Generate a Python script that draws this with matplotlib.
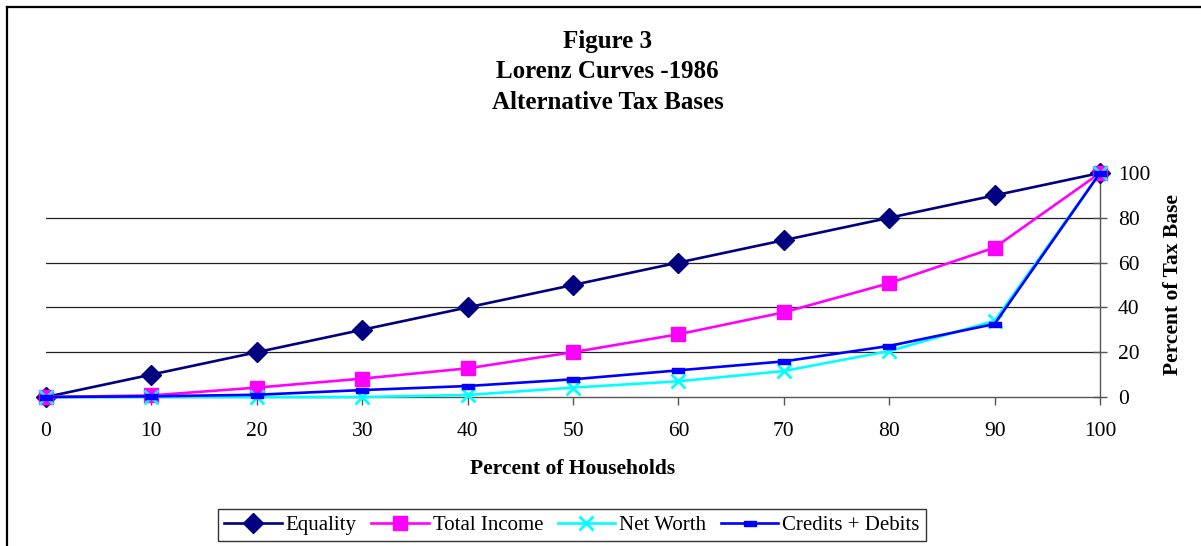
import numpy as np
import matplotlib
matplotlib.use("Agg")
import matplotlib.pyplot as plt
from matplotlib.lines import Line2D

## data
households = [0, 10, 20, 30, 40, 50, 60, 70, 80, 90, 100]
equality = [0, 10, 20, 30, 40, 50, 60, 70, 80, 90, 100]
totalIncome = [0, 0.7, 4.2, 8.2, 12.8, 20, 28, 37.8, 50.8, 66.7, 100]
netWorth = [0, 0, 0, 0, 0.9, 4.2, 7, 11.6, 20.5, 34, 100]
creditsDebits = [0, 0.3, 1, 3.1, 4.9, 7.9, 11.9, 15.9, 22.8, 32.6, 100]
yTicks = [0, 20, 40, 60, 80, 100]
gridVals = [20, 40, 60, 80]

titleLines = "Figure 3\nLorenz Curves -1986\nAlternative Tax Bases"

plt.rcParams['font.family'] = ['Liberation Serif', 'DejaVu Serif']

fig = plt.figure(figsize=(12.01, 5.46), dpi=100)
ax = fig.add_axes([46/1201, 1-397/546, (1100-46)/1201, (397-173)/546])

# frame lines of the original figure box (top and left only)
fig.add_artist(Line2D([7/1201, 1], [1-7/546, 1-7/546], color='black', lw=1.6, transform=fig.transFigure))
fig.add_artist(Line2D([7/1201, 7/1201], [0, 1-7/546], color='black', lw=1.6, transform=fig.transFigure))

for g in gridVals:
    ax.axhline(g, color='#222222', lw=0.9, zorder=1)

dash = [(-1, -0.45), (1, -0.45), (1, 0.45), (-1, 0.45), (-1, -0.45)]
ax.plot(households, equality, color='#000080', lw=1.9, marker='D', ms=10,
        label='Equality', clip_on=False, zorder=3)
ax.plot(households, totalIncome, color='#FF00FF', lw=1.9, marker='s', ms=10.5,
        label='Total Income', clip_on=False, zorder=3)
ax.plot(households, netWorth, color='#00FFFF', lw=1.9, marker='x', ms=10, mew=2,
        label='Net Worth', clip_on=False, zorder=4)
ax.plot(households, creditsDebits, color='#0000FF', lw=1.9, marker=dash, ms=8,
        label='Credits + Debits', clip_on=False, zorder=4)

ax.set_xlim(0, 100)
ax.set_ylim(0, 100)
ax.set_xticks(households)
ax.set_yticks(yTicks)

for s in ['top', 'left']:
    ax.spines[s].set_visible(False)
for s in ['bottom', 'right']:
    ax.spines[s].set_color('#555555')
    ax.spines[s].set_linewidth(1.0)

ax.yaxis.tick_right()
ax.yaxis.set_label_position('right')
ax.tick_params(axis='y', direction='inout', length=10, width=1, color='#555555', labelsize=15.5, pad=8)
ax.tick_params(axis='x', direction='out', length=6, width=1, color='#555555', labelsize=15.5, pad=12)

ax.set_xlabel("Percent of Households", fontsize=15.5, fontweight='bold', labelpad=13)
ax.set_ylabel("Percent of Tax Base", fontsize=15.5, fontweight='bold', labelpad=9)

fig.text(0.506, 1-72/546, titleLines, ha='center', va='center', fontsize=18,
         fontweight='bold', linespacing=1.42)

leg = fig.legend(loc='center', bbox_to_anchor=(572/1201, 1-525/546), ncol=4,
                 fontsize=15, frameon=True, fancybox=False, handlelength=2.75,
                 handletextpad=0.2, columnspacing=0.7, borderpad=0.3, borderaxespad=0)
leg.get_frame().set_edgecolor('black')
leg.get_frame().set_linewidth(1.0)

fig.savefig("out.png", dpi=100)
